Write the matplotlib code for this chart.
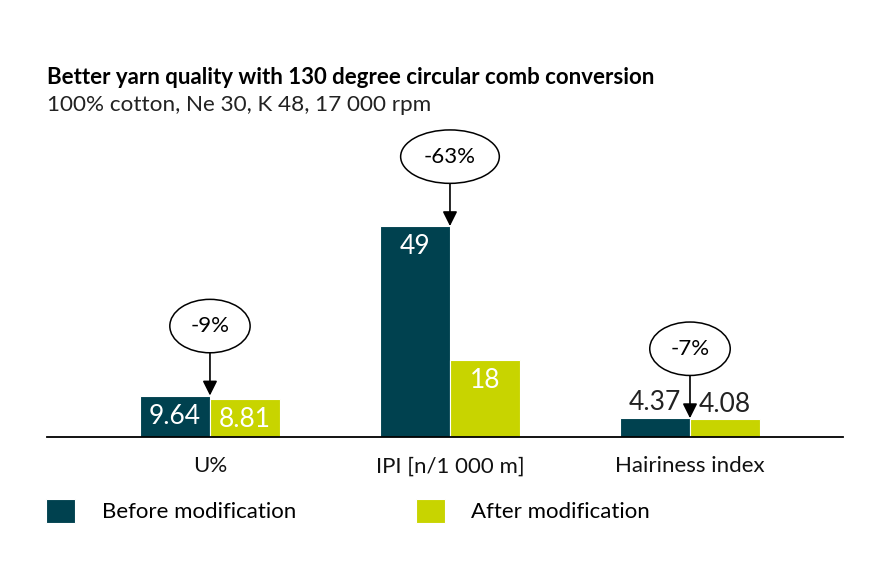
import matplotlib.pyplot as plt
import numpy as np

plt.rcParams['font.family'] = ['Lato', 'DejaVu Sans']

# data
categories = ['U%', 'IPI [n/1 000 m]', 'Hairiness index']
before = [9.64, 49, 4.37]
after = [8.81, 18, 4.08]
before_labels = ['9.64', '49', '4.37']
after_labels = ['8.81', '18', '4.08']
changes = ['-9%', '-63%', '-7%']
series_names = ['Before modification', 'After modification']

dark = '#00414f'
lime = '#c8d400'

fig = plt.figure(figsize=(8.9, 5.86), dpi=100)
ax = fig.add_axes([47 / 890, 149 / 586, 796 / 890, 297 / 586])

x = np.arange(len(categories))
w = 0.29
b1 = ax.bar(x - w / 2, before, w, color=dark, edgecolor='white', linewidth=0.8,
            label=series_names[0])
b2 = ax.bar(x + w / 2, after, w, color=lime, edgecolor='white', linewidth=0.8,
            label=series_names[1])

ax.set_xlim(-0.679, 2.6375)
ax.set_ylim(0, 69)
for s in ['top', 'right', 'left']:
    ax.spines[s].set_visible(False)
ax.spines['bottom'].set_linewidth(1.3)
ax.set_yticks([])
ax.set_xticks(x)
ax.set_xticklabels(categories, fontsize=16, color='#111111')
ax.tick_params(axis='x', length=0, pad=14)

# value labels
for bars, labels in [(b1, before_labels), (b2, after_labels)]:
    for rect, lab in zip(bars, labels):
        cx = rect.get_x() + rect.get_width() / 2
        h = rect.get_height()
        if h > 7:
            ax.annotate(lab, (cx, h), xytext=(0, -15), textcoords='offset points',
                        ha='center', va='center', color='white', fontsize=19)
        else:
            ax.annotate(lab, (cx, h), xytext=(0, 11), textcoords='offset points',
                        ha='center', va='center', color='#222222', fontsize=19)

# change bubbles
for i, txt in enumerate(changes):
    ax.annotate(txt, (x[i], before[i]), xytext=(0, 50), textcoords='offset points',
                ha='center', va='center', fontsize=16,
                bbox=dict(boxstyle='ellipse,pad=0.4', fc='white', ec='black', lw=1.1),
                arrowprops=dict(arrowstyle='-|>', color='black', lw=1.2,
                                mutation_scale=22, shrinkA=0, shrinkB=0))

fig.text(47 / 890, 1 - 77 / 586, 'Better yarn quality with 130 degree circular comb conversion',
         fontsize=16, fontweight='bold', va='center', ha='left')
fig.text(47 / 890, 1 - 105 / 586, '100% cotton, Ne 30, K 48, 17 000 rpm',
         fontsize=16.2, va='center', ha='left', color='#222222')

fig.legend(handles=[b1, b2], labels=series_names, loc='center left',
           bbox_to_anchor=(46 / 890, 1 - 511 / 586), ncol=2, frameon=False,
           fontsize=16, handlelength=1.3, handleheight=1.27, handletextpad=1.2,
           columnspacing=5.4, borderpad=0, borderaxespad=0)

fig.savefig('out.png', dpi=100)
